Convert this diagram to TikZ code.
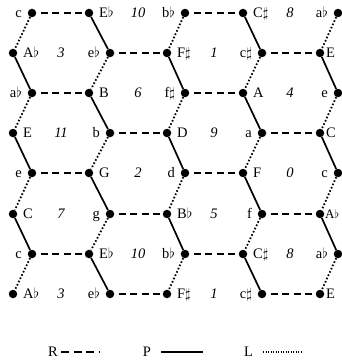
\documentclass[tikz,border=0pt]{standalone}
\usepackage{fontspec}
\setmainfont{Liberation Serif}
\usetikzlibrary{positioning}
\newcommand{\tzFl}{$\flat$}
\newcommand{\tzSh}{$\sharp$}
\tikzset{
  tonedot/.style={circle, fill=black, inner sep=0pt, minimum size=8.5pt},
  tonelab/.style={inner sep=0pt, text height=9.5pt, text depth=0pt, font=\fontsize{14.5}{17}\selectfont},
  hexnum/.style={tonelab, font=\fontsize{14.5}{17}\selectfont\itshape},
  rEdge/.style={line width=1.8pt, dash pattern=on 7pt off 4.5pt, dash phase=7pt},
  pEdge/.style={line width=1.7pt},
  lEdge/.style={line width=1.8pt, dash pattern=on 1.6pt off 2pt},
  rKey/.style={line width=2.2pt, dash pattern=on 8pt off 4.5pt},
  pKey/.style={line width=1.8pt},
  lKey/.style={line width=1.1pt, dash pattern=on 1pt off 1.5pt},
}

\begin{document}
\begin{tikzpicture}[x=1pt,y=-1pt,node distance=5.5pt]
\useasboundingbox (0,0) rectangle (342,361);
\node[tonedot] (v01) at (32,13) {}; \node[tonelab, left=of v01] (t01) {c};
\node[tonedot] (v02) at (89,13) {}; \node[tonelab, right=of v02] (t02) {E\tzFl};
\node[tonedot] (v03) at (185,13) {}; \node[tonelab, left=of v03] (t03) {b\tzFl};
\node[tonedot] (v04) at (243,13) {}; \node[tonelab, right=of v04] (t04) {C\tzSh};
\node[tonedot] (v05) at (338,13) {}; \node[tonelab, left=of v05] (t05) {a\tzFl};
\node[tonedot] (v11) at (13,53) {}; \node[tonelab, right=of v11] (t11) {A\tzFl};
\node[tonedot] (v12) at (110,53) {}; \node[tonelab, left=of v12] (t12) {e\tzFl};
\node[tonedot] (v13) at (167,53) {}; \node[tonelab, right=of v13] (t13) {F\tzSh};
\node[tonedot] (v14) at (262,53) {}; \node[tonelab, left=of v14] (t14) {c\tzSh};
\node[tonedot] (v15) at (320,53) {}; \node[tonelab, right=1.5pt of v15] (t15) {E};
\node[tonedot] (v21) at (32,93) {}; \node[tonelab, left=of v21] (t21) {a\tzFl};
\node[tonedot] (v22) at (89,93) {}; \node[tonelab, right=of v22] (t22) {B};
\node[tonedot] (v23) at (185,93) {}; \node[tonelab, left=of v23] (t23) {f\tzSh};
\node[tonedot] (v24) at (243,93) {}; \node[tonelab, right=of v24] (t24) {A};
\node[tonedot] (v25) at (338,93) {}; \node[tonelab, left=of v25] (t25) {e};
\node[tonedot] (v31) at (13,133) {}; \node[tonelab, right=of v31] (t31) {E};
\node[tonedot] (v32) at (110,133) {}; \node[tonelab, left=of v32] (t32) {b};
\node[tonedot] (v33) at (167,133) {}; \node[tonelab, right=of v33] (t33) {D};
\node[tonedot] (v34) at (262,133) {}; \node[tonelab, left=of v34] (t34) {a};
\node[tonedot] (v35) at (320,133) {}; \node[tonelab, right=1.5pt of v35] (t35) {C};
\node[tonedot] (v41) at (32,173) {}; \node[tonelab, left=of v41] (t41) {e};
\node[tonedot] (v42) at (89,173) {}; \node[tonelab, right=of v42] (t42) {G};
\node[tonedot] (v43) at (185,173) {}; \node[tonelab, left=of v43] (t43) {d};
\node[tonedot] (v44) at (243,173) {}; \node[tonelab, right=of v44] (t44) {F};
\node[tonedot] (v45) at (338,173) {}; \node[tonelab, left=of v45] (t45) {c};
\node[tonedot] (v51) at (13,214) {}; \node[tonelab, right=of v51] (t51) {C};
\node[tonedot] (v52) at (110,214) {}; \node[tonelab, left=of v52] (t52) {g};
\node[tonedot] (v53) at (167,214) {}; \node[tonelab, right=of v53] (t53) {B\tzFl};
\node[tonedot] (v54) at (262,214) {}; \node[tonelab, left=of v54] (t54) {f};
\node[tonedot] (v55) at (320,214) {}; \node[tonelab, right=0.5pt of v55, font=\fontsize{13}{15}\selectfont] (t55) {A\tzFl};
\node[tonedot] (v61) at (32,254) {}; \node[tonelab, left=of v61] (t61) {c};
\node[tonedot] (v62) at (89,254) {}; \node[tonelab, right=of v62] (t62) {E\tzFl};
\node[tonedot] (v63) at (185,254) {}; \node[tonelab, left=of v63] (t63) {b\tzFl};
\node[tonedot] (v64) at (243,254) {}; \node[tonelab, right=of v64] (t64) {C\tzSh};
\node[tonedot] (v65) at (338,254) {}; \node[tonelab, left=of v65] (t65) {a\tzFl};
\node[tonedot] (v71) at (13,294) {}; \node[tonelab, right=of v71] (t71) {A\tzFl};
\node[tonedot] (v72) at (110,294) {}; \node[tonelab, left=of v72] (t72) {e\tzFl};
\node[tonedot] (v73) at (167,294) {}; \node[tonelab, right=of v73] (t73) {F\tzSh};
\node[tonedot] (v74) at (262,294) {}; \node[tonelab, left=of v74] (t74) {c\tzSh};
\node[tonedot] (v75) at (320,294) {}; \node[tonelab, right=1.5pt of v75] (t75) {E};
\node[hexnum] (h01) at (138,13) {10}; \node[hexnum] (h02) at (290,13) {8};
\node[hexnum] (h11) at (61,53) {3}; \node[hexnum] (h12) at (214,53) {1};
\node[hexnum] (h21) at (138,93) {6}; \node[hexnum] (h22) at (290,93) {4};
\node[hexnum] (h31) at (61,133) {11}; \node[hexnum] (h32) at (214,133) {9};
\node[hexnum] (h41) at (138,173) {2}; \node[hexnum] (h42) at (290,173) {0};
\node[hexnum] (h51) at (61,214) {7}; \node[hexnum] (h52) at (214,214) {5};
\node[hexnum] (h61) at (138,254) {10}; \node[hexnum] (h62) at (290,254) {8};
\node[hexnum] (h71) at (61,294) {3}; \node[hexnum] (h72) at (214,294) {1};
\draw[rEdge] (v01) -- (v02) (v03) -- (v04);
\draw[rEdge] (v12) -- (v13) (v14) -- (v15);
\draw[rEdge] (v21) -- (v22) (v23) -- (v24);
\draw[rEdge] (v32) -- (v33) (v34) -- (v35);
\draw[rEdge] (v41) -- (v42) (v43) -- (v44);
\draw[rEdge] (v52) -- (v53) (v54) -- (v55);
\draw[rEdge] (v61) -- (v62) (v63) -- (v64);
\draw[rEdge] (v72) -- (v73) (v74) -- (v75);
\draw[lEdge] (v01) -- (v11) (v03) -- (v13) (v05) -- (v15);
\draw[pEdge] (v02) -- (v12) (v04) -- (v14);
\draw[pEdge] (v11) -- (v21) (v13) -- (v23) (v15) -- (v25);
\draw[lEdge] (v12) -- (v22) (v14) -- (v24);
\draw[lEdge] (v21) -- (v31) (v23) -- (v33) (v25) -- (v35);
\draw[pEdge] (v22) -- (v32) (v24) -- (v34);
\draw[pEdge] (v31) -- (v41) (v33) -- (v43) (v35) -- (v45);
\draw[lEdge] (v32) -- (v42) (v34) -- (v44);
\draw[lEdge] (v41) -- (v51) (v43) -- (v53) (v45) -- (v55);
\draw[pEdge] (v42) -- (v52) (v44) -- (v54);
\draw[pEdge] (v51) -- (v61) (v53) -- (v63) (v55) -- (v65);
\draw[lEdge] (v52) -- (v62) (v54) -- (v64);
\draw[lEdge] (v61) -- (v71) (v63) -- (v73) (v65) -- (v75);
\draw[pEdge] (v62) -- (v72) (v64) -- (v74);
\node[tonelab] (keyR) at (53,352) {R};
\node[tonelab] (keyP) at (147,352) {P};
\node[tonelab] (keyL) at (248.5,352) {L};
\coordinate (keyRend) at (100,352);
\coordinate (keyPend) at (203,352);
\coordinate (keyLend) at (303,352);
\draw[rKey] ([xshift=3pt]keyR.east) -- (keyRend);
\draw[pKey] ([xshift=10pt]keyP.east) -- (keyPend);
\draw[lKey] ([xshift=10pt]keyL.east) -- (keyLend);
\end{tikzpicture}
\end{document}
